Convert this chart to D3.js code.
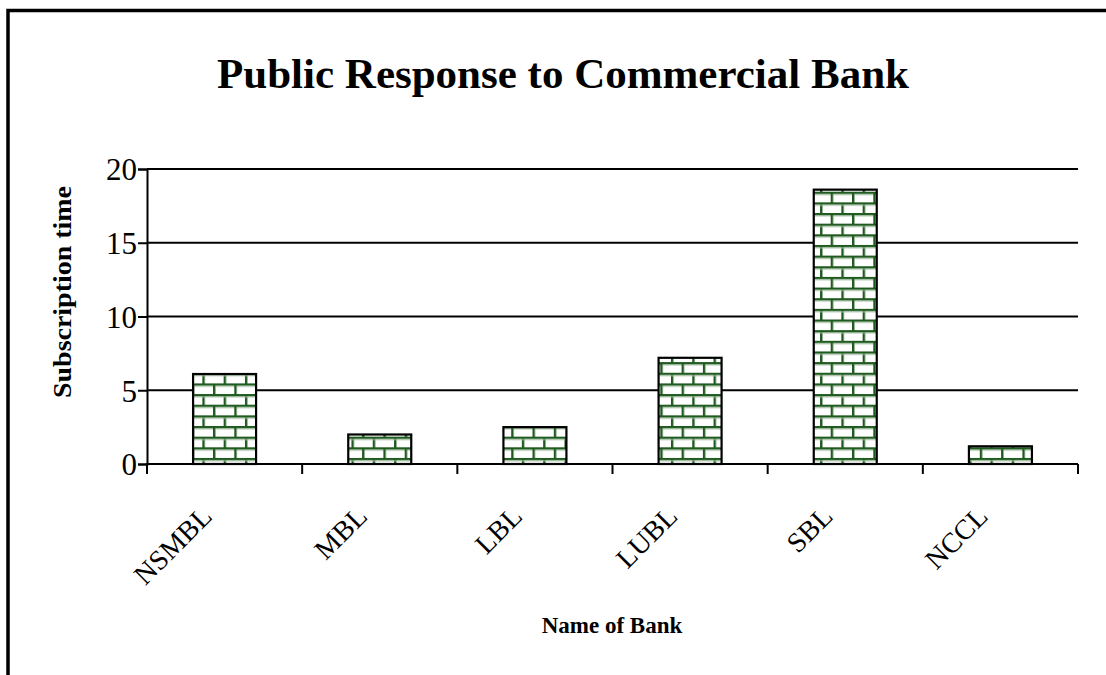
<!DOCTYPE html>
<html>
<head>
<meta charset="utf-8">
<script src="https://cdn.jsdelivr.net/npm/d3@7"></script>
<style>
  html, body { margin: 0; padding: 0; background: #fff; }
  svg { display: block; }
  text { font-family: "Liberation Serif", "Times New Roman", serif; fill: #000; }
</style>
</head>
<body>
<svg id="chart" width="1106" height="675"></svg>
<script>
// Subscription times per bank
const banks = ["NSMBL", "MBL", "LBL", "LUBL", "SBL", "NCCL"];
const subscriptionTime = [6.1, 2.0, 2.5, 7.2, 18.6, 1.2];
const yTicks = [0, 5, 10, 15, 20];

const W = 1106, H = 675;
const margin = { left: 147, right: 1078, top: 169, bottom: 464 };

const svg = d3.select("#chart");

// brick fill pattern
const defs = svg.append("defs");
const pw = 21.3, ph = 21.3, rh = ph / 2;
const pat = defs.append("pattern")
  .attr("id", "brick")
  .attr("patternUnits", "userSpaceOnUse")
  .attr("width", pw).attr("height", ph)
  .attr("x", 0).attr("y", 0);
pat.append("rect").attr("width", pw).attr("height", ph).attr("fill", "#ffffff");
const mortar = "#1f5a1f";
pat.append("rect").attr("x", 0).attr("y", 0).attr("width", pw).attr("height", 2.4).attr("fill", mortar);
pat.append("rect").attr("x", 0).attr("y", rh).attr("width", pw).attr("height", 2.4).attr("fill", mortar);
pat.append("rect").attr("x", 0).attr("y", 0).attr("width", 2.4).attr("height", rh).attr("fill", mortar);
pat.append("rect").attr("x", pw / 2).attr("y", rh).attr("width", 2.4).attr("height", rh).attr("fill", mortar);
// soft edge shading
pat.append("rect").attr("x", 2.4).attr("y", 2.4).attr("width", pw - 2.4).attr("height", 1).attr("fill", "#a9c2a9");
pat.append("rect").attr("x", 0).attr("y", rh + 2.4).attr("width", pw).attr("height", 1).attr("fill", "#a9c2a9");

// outer frame (runs off the right and bottom edges)
svg.append("path")
  .attr("d", `M8,${H + 10} L8,10.5 L${W + 10},10.5`)
  .attr("fill", "none").attr("stroke", "#000").attr("stroke-width", 3.5);

const x = d3.scaleBand().domain(banks).range([margin.left, margin.right]).paddingInner(0).paddingOuter(0);
const y = d3.scaleLinear().domain([0, 20]).range([margin.bottom, margin.top]);

// gridlines
svg.append("g").selectAll("line").data(yTicks.filter(d => d > 0)).join("line")
  .attr("x1", margin.left).attr("x2", margin.right)
  .attr("y1", d => y(d)).attr("y2", d => y(d))
  .attr("stroke", "#000").attr("stroke-width", 2);

// bars
const bw = 63;
svg.append("g").selectAll("rect").data(banks).join("rect")
  .attr("x", d => x(d) + x.bandwidth() / 2 - bw / 2)
  .attr("y", (d, i) => y(subscriptionTime[i]))
  .attr("width", bw)
  .attr("height", (d, i) => y(0) - y(subscriptionTime[i]))
  .attr("fill", "url(#brick)")
  .attr("stroke", "#000").attr("stroke-width", 2.2);

// y axis
const yAxis = svg.append("g")
  .attr("transform", `translate(${margin.left},0)`)
  .call(d3.axisLeft(y).tickValues(yTicks).tickSize(9).tickPadding(1).tickFormat(d3.format("d")));
yAxis.select(".domain").attr("stroke", "#000").attr("stroke-width", 2);
yAxis.selectAll(".tick line").attr("stroke", "#000").attr("stroke-width", 2);
yAxis.selectAll(".tick text").style("font-size", "31px").style("font-family", "Liberation Serif, serif").attr("dy", "0.35em");

// x axis with ticks on category boundaries
const xAxis = svg.append("g").attr("transform", `translate(0,${margin.bottom})`);
xAxis.append("line").attr("x1", margin.left - 1).attr("x2", margin.right).attr("y1", 0).attr("y2", 0)
  .attr("stroke", "#000").attr("stroke-width", 2);
const bounds = banks.map(d => x(d)).concat([margin.right]);
xAxis.selectAll("line.tk").data(bounds).join("line").attr("class", "tk")
  .attr("x1", d => d).attr("x2", d => d).attr("y1", 0).attr("y2", 10)
  .attr("stroke", "#000").attr("stroke-width", 2);
xAxis.selectAll("text").data(banks).join("text")
  .attr("transform", d => `translate(${x(d) + x.bandwidth() / 2 - 11},${54}) rotate(-45)`)
  .attr("text-anchor", "end")
  .style("font-size", "28px")
  .text(d => d);

// titles
svg.append("text").attr("x", 563).attr("y", 88).attr("text-anchor", "middle")
  .style("font-size", "43px").style("font-weight", "bold")
  .text("Public Response to Commercial Bank");

svg.append("text").attr("transform", `translate(71,292) rotate(-90)`).attr("text-anchor", "middle")
  .style("font-size", "25px").style("font-weight", "bold")
  .attr("textLength", 212).attr("lengthAdjust", "spacingAndGlyphs")
  .text("Subscription time");

svg.append("text").attr("x", 612).attr("y", 633).attr("text-anchor", "middle")
  .style("font-size", "23px").style("font-weight", "bold")
  .text("Name of Bank");
</script>
</body>
</html>
